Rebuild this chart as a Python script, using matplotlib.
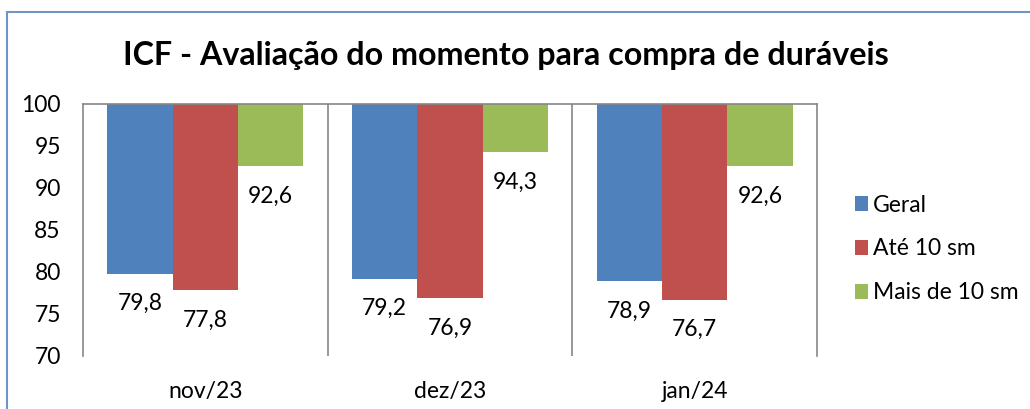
import matplotlib.pyplot as plt
from matplotlib.patches import Rectangle

plt.rcParams['font.family'] = ['Lato', 'DejaVu Sans']

MONTHS = ['nov/23', 'dez/23', 'jan/24']
GERAL = [79.8, 79.2, 78.9]
ATE_10 = [77.8, 76.9, 76.7]
MAIS_10 = [92.6, 94.3, 92.6]
SERIES_NAMES = ['Geral', 'Até 10 sm', 'Mais de 10 sm']
COLORS = ['#4F81BD', '#C0504D', '#9BBB59']
GRID = '#868686'


def fmt(v):
    return ('%.1f' % v).replace('.', ',')


fig = plt.figure(figsize=(10.3, 4.09), dpi=100)
# outer chart frame (cut off at right and bottom, like the screenshot)
fig.patches.append(Rectangle((7 / 1030, -0.1), 1.2, 1 - 12 / 409 + 0.1,
                             transform=fig.transFigure, fill=False,
                             edgecolor='#6F95C8', linewidth=1.5))

ax = fig.add_axes([83 / 1030, 1 - 356 / 409, (817 - 83) / 1030, (356 - 104) / 409])

w = 0.267
xs = list(range(1, len(MONTHS) + 1))
for k, (vals, name, col) in enumerate(zip([GERAL, ATE_10, MAIS_10], SERIES_NAMES, COLORS)):
    pos = [x + (k - 1) * w for x in xs]
    ax.bar(pos, [v - 100 for v in vals], bottom=100, width=w, color=col,
           label=name, linewidth=0)
    for p, v in zip(pos, vals):
        ax.annotate(fmt(v), xy=(p, v), xytext=(0, -30 * 0.72),
                    textcoords='offset points', ha='center', va='center',
                    fontsize=16.5, color='black')

ax.set_xlim(0.5, len(MONTHS) + 0.5)
ax.set_ylim(70, 100)
ax.set_yticks(range(70, 101, 5))
ax.set_xticks(xs)
ax.set_xticklabels(MONTHS)
ax.tick_params(axis='both', length=0, labelsize=16.5)
ax.tick_params(axis='x', pad=18)
ax.tick_params(axis='y', pad=16)
for x in xs[:-1]:
    ax.axvline(x + 0.5, color=GRID, linewidth=1.2, zorder=0)
for s in ['left', 'right', 'top']:
    ax.spines[s].set_color(GRID)
    ax.spines[s].set_linewidth(1.2)
ax.spines['bottom'].set_visible(False)

fig.text(506 / 1030, 1 - 56 / 409, 'ICF - Avaliação do momento para compra de duráveis',
         ha='center', va='center', fontsize=23.2, fontweight='bold')

fig.legend(loc='center left', bbox_to_anchor=(834 / 1030, 1 - 249 / 409),
           frameon=False, fontsize=16.5, handlelength=0.6, handleheight=0.6,
           handletextpad=0.2, labelspacing=1.0)

fig.savefig('out.png', dpi=100)
